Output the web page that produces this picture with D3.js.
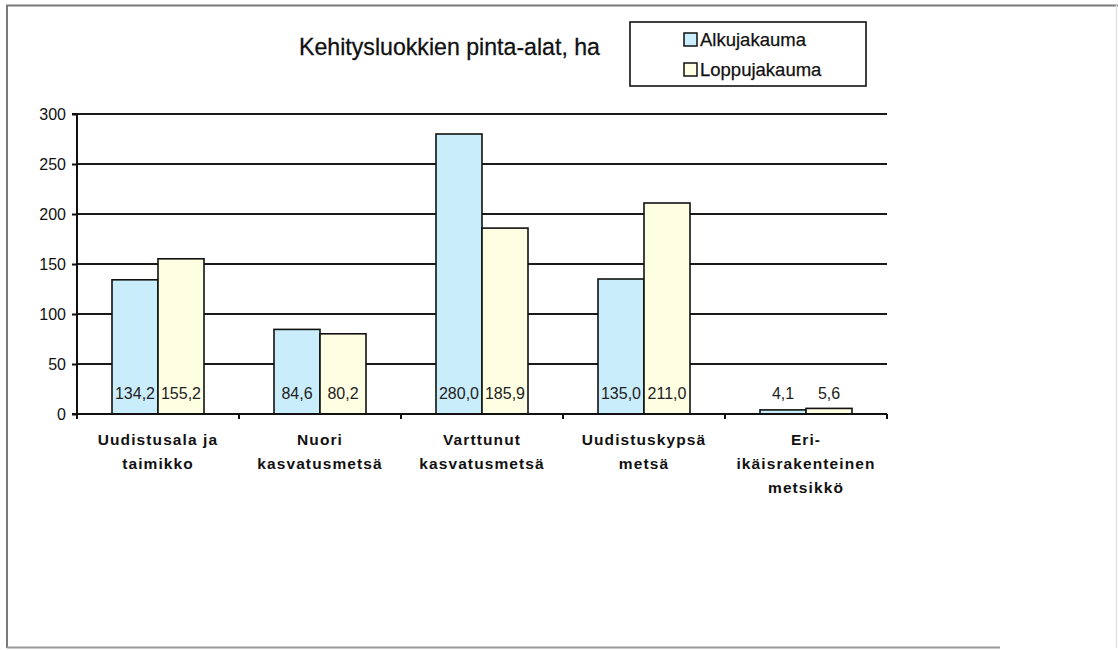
<!DOCTYPE html>
<html>
<head>
<meta charset="utf-8">
<script src="https://cdn.jsdelivr.net/npm/d3@7"></script>
<style>
  html, body { margin: 0; padding: 0; background: #fff; }
  svg { display: block; }
  text { font-family: "Liberation Sans", Arial, sans-serif; }
</style>
</head>
<body>
<svg id="chart" width="1118" height="650"></svg>
<script>
// Area by development class (ha), start and end distribution
const categories = [
  ["Uudistusala ja", "taimikko"],
  ["Nuori", "kasvatusmetsä"],
  ["Varttunut", "kasvatusmetsä"],
  ["Uudistuskypsä", "metsä"],
  ["Eri-", "ikäisrakenteinen", "metsikkö"]
];
const seriesNames = ["Alkujakauma", "Loppujakauma"];
const alkujakauma = [134.2, 84.6, 280.0, 135.0, 4.1];
const loppujakauma = [155.2, 80.2, 185.9, 211.0, 5.6];
const yTicks = [0, 50, 100, 150, 200, 250, 300];
const title = "Kehitysluokkien pinta-alat, ha";

const colors = ["#c9edfb", "#fefee2"];
const series = [alkujakauma, loppujakauma];
const fmt = v => v.toFixed(1).replace(".", ",");

const svg = d3.select("#chart");

// outer frame: darker on left/top/bottom, faint on the right
const frame = svg.append("g").attr("fill", "none");
frame.append("path").attr("d", "M7,648V5.5H1118").attr("stroke", "#7a7a7a").attr("stroke-width", 2);
frame.append("path").attr("d", "M7,647.5H1000").attr("stroke", "#999").attr("stroke-width", 2);
frame.append("path").attr("d", "M1116.5,5V648").attr("stroke", "#e2e2e2").attr("stroke-width", 1.5);

const plotLeft = 77, plotRight = 887, plotTop = 114, plotBottom = 414;

const x0 = d3.scaleBand().domain(d3.range(categories.length)).range([plotLeft, plotRight]).paddingInner(0).paddingOuter(0);
const groupPad = 35 / 162;
const x1 = d3.scaleBand().domain(d3.range(series.length))
  .range([x0.bandwidth() * groupPad, x0.bandwidth() * (1 - groupPad)]);
const y = d3.scaleLinear().domain([0, 300]).range([plotBottom, plotTop]);

// horizontal gridlines
svg.append("g").selectAll("line")
  .data(yTicks.filter(t => t > 0))
  .join("line")
  .attr("x1", plotLeft).attr("x2", plotRight)
  .attr("y1", d => y(d)).attr("y2", d => y(d))
  .attr("stroke", "#1a1a1a").attr("stroke-width", 2);

// bars
const groups = svg.append("g").selectAll("g")
  .data(categories.map((c, i) => i))
  .join("g")
  .attr("transform", i => `translate(${x0(i)},0)`);

groups.selectAll("rect")
  .data(i => series.map((s, k) => ({ k, v: s[i] })))
  .join("rect")
  .attr("x", d => x1(d.k))
  .attr("y", d => y(d.v))
  .attr("width", x1.bandwidth())
  .attr("height", d => y(0) - y(d.v))
  .attr("fill", d => colors[d.k])
  .attr("stroke", "#111").attr("stroke-width", 1.6);

// value labels at the base of each bar
groups.selectAll("text")
  .data(i => series.map((s, k) => ({ k, v: s[i] })))
  .join("text")
  .attr("x", d => x1(d.k) + x1.bandwidth() / 2)
  .attr("y", y(0) - 15)
  .attr("text-anchor", "middle")
  .attr("font-size", 16)
  .attr("fill", "#222")
  .text(d => fmt(d.v));

// y axis
const yAxis = d3.axisLeft(y).tickValues(yTicks).tickSize(5).tickPadding(6);
const gy = svg.append("g").attr("transform", `translate(${plotLeft},0)`).call(yAxis);
gy.select(".domain").attr("stroke", "#111").attr("stroke-width", 2).attr("d", `M-5,${plotTop}H0V${plotBottom}H-5`);
gy.selectAll(".tick line").attr("stroke", "#111").attr("stroke-width", 2);
gy.selectAll(".tick text").attr("font-size", 16).attr("fill", "#111")
  .attr("font-family", "Liberation Sans, Arial, sans-serif");

// x axis with ticks at category boundaries
svg.append("line")
  .attr("x1", plotLeft).attr("x2", plotRight).attr("y1", plotBottom).attr("y2", plotBottom)
  .attr("stroke", "#111").attr("stroke-width", 2);
svg.append("g").selectAll("line")
  .data(d3.range(categories.length + 1))
  .join("line")
  .attr("x1", i => i < categories.length ? x0(i) : plotRight)
  .attr("x2", i => i < categories.length ? x0(i) : plotRight)
  .attr("y1", plotBottom).attr("y2", plotBottom + 5)
  .attr("stroke", "#111").attr("stroke-width", 2);

// category labels
const catLabels = svg.append("g").selectAll("text")
  .data(categories.map((c, i) => ({ c, i })))
  .join("text")
  .attr("text-anchor", "middle")
  .attr("font-size", 15.5)
  .attr("font-weight", "bold")
  .attr("letter-spacing", 1.1)
  .attr("fill", "#111")
  .attr("transform", d => `translate(${x0(d.i) + x0.bandwidth() / 2},445)`);
catLabels.selectAll("tspan")
  .data(d => d.c)
  .join("tspan")
  .attr("x", 0)
  .attr("y", (d, j) => j * 24)
  .text(d => d);

// title
svg.append("text")
  .attr("x", 299).attr("y", 55)
  .attr("font-size", 24.5)
  .attr("textLength", 301).attr("lengthAdjust", "spacingAndGlyphs")
  .attr("fill", "#111")
  .attr("stroke", "#111").attr("stroke-width", 0.3)
  .text(title);

// legend
const lg = svg.append("g");
lg.append("rect")
  .attr("x", 630).attr("y", 22).attr("width", 236).attr("height", 64)
  .attr("fill", "#fff").attr("stroke", "#111").attr("stroke-width", 1.6);
const items = lg.selectAll("g.item")
  .data(seriesNames.map((n, k) => ({ n, k })))
  .join("g").attr("class", "item")
  .attr("transform", d => `translate(684,${33 + d.k * 30})`);
items.append("rect")
  .attr("x", 0).attr("y", 0).attr("width", 13).attr("height", 13)
  .attr("fill", d => colors[d.k]).attr("stroke", "#111").attr("stroke-width", 1.5);
items.append("text")
  .attr("x", 16).attr("y", 13)
  .attr("font-size", 18.5)
  .attr("fill", "#111")
  .attr("stroke", "#111").attr("stroke-width", 0.25)
  .text(d => d.n);
</script>
</body>
</html>
